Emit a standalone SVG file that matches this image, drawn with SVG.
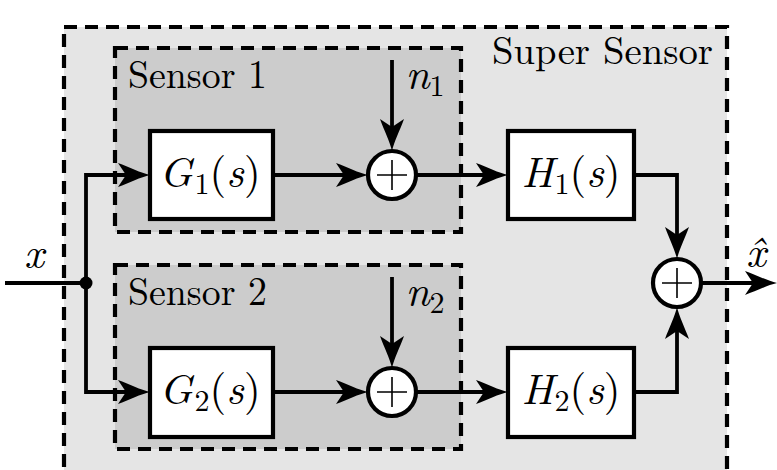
<svg xmlns="http://www.w3.org/2000/svg" width="777" height="470" viewBox="0 0 777 470">
<style>
.grp{stroke:#000;stroke-width:4.2;stroke-dasharray:13 8}
.blk{fill:#fff;stroke:#000;stroke-width:4.2}
.sum{fill:#fff;stroke:#000;stroke-width:4.2}
.plus{stroke:#000;stroke-width:1.6;fill:none}
.w{fill:none;stroke:#000;stroke-width:3.8}
text{font-family:'Latin Modern Roman','CMU Serif','Liberation Serif','Times New Roman','DejaVu Serif',serif;fill:#000}
.lab{font-size:40px}
.m{font-size:43px;text-anchor:middle}
.i{font-style:italic}
.sub{font-size:30px}
</style>
<defs>
<marker id="ar" markerUnits="userSpaceOnUse" markerWidth="36" markerHeight="28" viewBox="-21 -14 36 28" refX="0" refY="0" orient="auto" overflow="visible">
<path d="M13,0 C4,-2 -8,-8 -19,-12 L-11,0 L-19,12 C-8,8 4,2 13,0 Z" fill="#000"/>
</marker>
</defs>
<g id="super-sensor">
<rect class="grp" x="64" y="27" width="663" height="460" fill="#e5e5e5"/>
<text class="lab" x="492" y="64" textLength="221" lengthAdjust="spacingAndGlyphs">Super Sensor</text>
</g>
<g id="sensor1">
<rect class="grp" x="115" y="48" width="346" height="184" fill="#cccccc"/>
<text class="lab" x="128" y="88" textLength="139" lengthAdjust="spacingAndGlyphs">Sensor 1</text>
</g>
<g id="sensor2">
<rect class="grp" x="115" y="265" width="346" height="184" fill="#cccccc"/>
<text class="lab" x="128" y="305" textLength="139" lengthAdjust="spacingAndGlyphs">Sensor 2</text>
</g>
<g id="connectors">
<path class="w" d="M5,283 H86"/>
<path class="w" d="M86,283 V175 H137" marker-end="url(#ar)"/>
<path class="w" d="M86,283 V392 H137" marker-end="url(#ar)"/>
<path class="w" d="M273,175 H355" marker-end="url(#ar)"/>
<path class="w" d="M273,392 H355" marker-end="url(#ar)"/>
<path class="w" d="M392,60 V138" marker-end="url(#ar)"/>
<path class="w" d="M392,277 V355" marker-end="url(#ar)"/>
<path class="w" d="M416,175 H495" marker-end="url(#ar)"/>
<path class="w" d="M416,392 H495" marker-end="url(#ar)"/>
<path class="w" d="M634,175 H677 V246" marker-end="url(#ar)"/>
<path class="w" d="M634,392 H677 V320" marker-end="url(#ar)"/>
<path class="w" d="M701,283 H764" marker-end="url(#ar)"/>
<circle cx="86" cy="283" r="6.5" fill="#000"/>
<text class="m i" x="34" y="268">x</text>
<text class="m i" x="756" y="267">x̂</text>
<text class="m" x="425" y="89"><tspan class="i">n</tspan><tspan class="sub" dy="7">1</tspan></text>
<text class="m" x="425" y="306"><tspan class="i">n</tspan><tspan class="sub" dy="7">2</tspan></text>
</g>
<g id="G1">
<rect class="blk" x="150" y="131" width="123" height="88"/>
<text class="m" x="210" y="187"><tspan class="i">G</tspan><tspan class="sub" dx="2" dy="7">1</tspan><tspan dy="-7">(</tspan><tspan class="i">s</tspan>)</text>
</g>
<g id="G2">
<rect class="blk" x="150" y="348" width="123" height="89"/>
<text class="m" x="210" y="404"><tspan class="i">G</tspan><tspan class="sub" dx="2" dy="7">2</tspan><tspan dy="-7">(</tspan><tspan class="i">s</tspan>)</text>
</g>
<g id="sum1">
<circle class="sum" cx="392" cy="175" r="24"/>
<path class="plus" d="M377,175 H407 M392,160 V190"/>
</g>
<g id="sum2">
<circle class="sum" cx="392" cy="392" r="24"/>
<path class="plus" d="M377,392 H407 M392,377 V407"/>
</g>
<g id="H1">
<rect class="blk" x="508" y="131" width="126" height="88"/>
<text class="m" x="571" y="187"><tspan class="i">H</tspan><tspan class="sub" dx="1" dy="7">1</tspan><tspan dy="-7">(</tspan><tspan class="i">s</tspan>)</text>
</g>
<g id="H2">
<rect class="blk" x="508" y="348" width="126" height="89"/>
<text class="m" x="571" y="404"><tspan class="i">H</tspan><tspan class="sub" dx="1" dy="7">2</tspan><tspan dy="-7">(</tspan><tspan class="i">s</tspan>)</text>
</g>
<g id="sum3">
<circle class="sum" cx="677" cy="283" r="24"/>
<path class="plus" d="M662,283 H692 M677,268 V298"/>
</g>
</svg>
